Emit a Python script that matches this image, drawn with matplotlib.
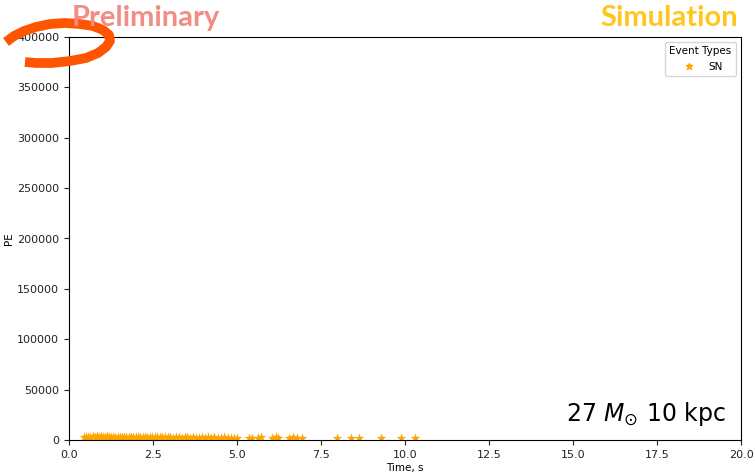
import matplotlib.pyplot as plt
from matplotlib.lines import Line2D

# --------------------------------------------------
# DATA
# --------------------------------------------------
sn_time = [0.45, 0.52, 0.58, 0.63, 0.70, 0.76, 0.82, 0.88, 0.95, 1.01,
           1.07, 1.13, 1.19, 1.26, 1.32, 1.38, 1.45, 1.51, 1.58, 1.64,
           1.71, 1.78, 1.84, 1.91, 1.98, 2.05, 2.12, 2.19, 2.26, 2.33,
           2.40, 2.47, 2.55, 2.62, 2.70, 2.78, 2.86, 2.94, 3.02, 3.10,
           3.18, 3.27, 3.35, 3.44, 3.52, 3.61, 3.70, 3.79, 3.88, 3.97,
           4.06, 4.15, 4.24, 4.33, 4.42, 4.52, 4.62, 4.72, 4.82, 4.92,
           5.00, 5.35, 5.45, 5.62, 5.72, 6.05, 6.15, 6.22, 6.55, 6.68,
           6.78, 6.92, 7.98, 8.38, 8.62, 9.30, 9.88, 10.30]
sn_pe = [2600, 3100, 3300, 3200, 3500, 3400, 3600, 3300, 3500, 3200,
         3400, 3600, 3300, 3100, 3400, 3000, 3200, 2900, 3100, 3300,
         2800, 3000, 3200, 2900, 3100, 2800, 3000, 3300, 2900, 2700,
         3000, 3200, 2800, 2600, 2900, 2700, 2500, 2800, 2600, 2400,
         2700, 2500, 2400, 2900, 2500, 2300, 2600, 2400, 2200, 2500,
         2300, 2600, 2400, 2900, 2300, 2200, 2500, 2100, 2300, 2200,
         2100, 2400, 2200, 2300, 2500, 2200, 2600, 2200, 2100, 2500,
         2400, 2100, 2200, 2000, 2100, 2000, 2300, 2100]

x_ticks = [0.0, 2.5, 5.0, 7.5, 10.0, 12.5, 15.0, 17.5, 20.0]
y_ticks = [0, 50000, 100000, 150000, 200000, 250000, 300000, 350000, 400000]

# --------------------------------------------------
# FIGURE
# --------------------------------------------------
fig = plt.figure(figsize=(7.55, 4.73), dpi=100)
ax = fig.add_axes([69 / 755, 33 / 473, 672 / 755, 403 / 473])

ax.scatter(sn_time, sn_pe, marker='*', s=55, color='orange', linewidths=0)

ax.set_xlim(0, 20)
ax.set_ylim(0, 400000)
ax.set_xticks(x_ticks)
ax.set_yticks(y_ticks)
ax.tick_params(labelsize=8, colors='#222222')
ax.set_xlabel("Time, s", fontsize=7.5, labelpad=2)
ax.set_ylabel("PE", fontsize=7.5, labelpad=2)

handle = Line2D([], [], marker='*', linestyle='none', color='orange', markersize=5)
leg = ax.legend([handle], ["SN"], title="Event Types", loc='upper right',
                fontsize=7.5, title_fontsize=7.5)

ax.text(0.978, 0.03, r"27 $M_{\odot}$ 10 kpc", transform=ax.transAxes,
        ha='right', va='bottom', fontsize=17)

# header labels
fig.text(72 / 755, 1 - 18 / 473, "Preliminary", color='#F28C84',
         fontsize=21, fontweight='bold', family='Lato', ha='left', va='center')
fig.text(738 / 755, 1 - 18 / 473, "Simulation", color='#FFC61E',
         fontsize=21, fontweight='bold', family='Lato', ha='right', va='center')

# hand-drawn orange loop around the top-left corner
loop_x = [6, 14, 24, 36, 50, 65, 80, 93, 103, 109, 110, 106, 98, 86, 70, 52, 36, 25]
loop_y = [42, 36, 31, 27, 24, 23, 24, 26, 30, 35, 41, 47, 53, 58, 61, 63, 63, 62]
fig.add_artist(Line2D([v / 755 for v in loop_x], [1 - v / 473 for v in loop_y],
                      color='#FF5500', linewidth=7, solid_capstyle='butt',
                      solid_joinstyle='round', transform=fig.transFigure))

fig.savefig("out.png", dpi=100)
